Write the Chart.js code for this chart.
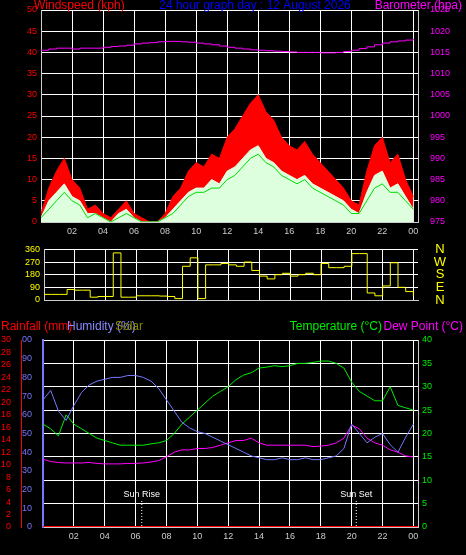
<!DOCTYPE html>
<html>
<head>
<meta charset="utf-8">
<script src="https://cdn.jsdelivr.net/npm/chart.js@4/dist/chart.umd.min.js"></script>
<style>
  body { margin: 0; background: #000; width: 466px; height: 555px; overflow: hidden; }
  canvas { position: absolute; left: 0; }
</style>
</head>
<body>
<canvas id="wind" width="466" height="240" style="top:0"></canvas>
<canvas id="dir" width="466" height="70" style="top:240px"></canvas>
<canvas id="temp" width="466" height="245" style="top:310px"></canvas>
<script>
const hours = [0,0.5,1,1.5,2,2.5,3,3.5,4,4.5,5,5.5,6,6.5,7,7.5,8,8.5,9,9.5,10,10.5,11,11.5,12,12.5,13,13.5,14,14.5,15,15.5,16,16.5,17,17.5,18,18.5,19,19.5,20,20.5,21,21.5,22,22.5,23,23.5,24];
const hourTicks = [2,4,6,8,10,12,14,16,18,20,22,24];
const gust    = [2,8,12,15,10,8,3,4,2,1,3,5,2,1,0,0,2,6,8,12,14,13,16,15,20,22,25,28,30,26,24,20,18,17,19,16,14,12,10,8,5,4,12,18,20,14,16,10,6];
const speed   = [1,5,7,9,6,5,2,2,1,0,2,3,1,0,0,0,1,3,5,7,8,8,10,9,12,13,15,17,18,15,14,12,11,10,11,9,8,7,6,5,3,2,7,11,12,8,9,6,3];
const average = [1,3,5,7,5,4,1,2,1,0,1,2,1,0,0,0,1,2,4,6,7,7,8,8,10,11,13,15,16,14,13,11,10,9,10,8,7,6,5,4,2,2,5,8,9,7,7,5,3];
const barometer = [1015.5,1015.8,1016,1016,1015.8,1016,1016,1016,1016.2,1016.4,1016.5,1016.7,1017,1017.2,1017.3,1017.5,1017.6,1017.6,1017.5,1017.4,1017.2,1017,1016.8,1016.5,1016.2,1016,1015.8,1015.6,1015.5,1015.4,1015.3,1015.2,1015.1,1015,1015,1015,1014.9,1014.9,1015,1015.2,1015.5,1015.9,1016.3,1016.8,1017.2,1017.5,1017.7,1017.9,1018.2];
const direction = [40,40,40,75,70,70,20,25,25,335,20,20,30,30,30,28,25,10,240,300,10,250,250,260,250,240,270,210,170,150,180,190,170,180,190,180,260,230,230,240,330,330,50,30,100,265,90,60,30];
const humidity = [68,73,62,57,65,72,76,78,79,80,80,81,81,80,78,74,68,62,56,53,51,50,48,46,44,42,40,38,37,36,36,37,36,36,37,36,36,37,38,42,55,50,45,48,50,44,40,48,55];
const temperature = [22,21,19.5,24,22,21,20,19,18.5,18,17.5,17.5,17.5,17.5,17.8,18,18.5,20,22,23.5,25,26.5,28,29,30,31.5,32.5,33,34,34.2,34.5,34.3,34.5,35,35,35.2,35.5,35.5,35,34,31,29,28,27,27,30,26,25.5,25];
const dewPoint = [14.5,14,13.8,13.7,13.7,13.7,13.8,13.6,13.5,13.5,13.5,13.6,13.6,13.7,13.9,14.2,15,16,16.5,16.5,16.8,16.8,17,17.5,18,18.5,18.5,19,18,17.5,17.5,17.5,17.5,17.5,17.5,17.2,17.3,17.5,18,19,21.8,21,19,18,17.5,16.5,16,15.2,15];
const rainfall = [0,0];
const sunEvents = [['Sun Rise', 6.4], ['Sun Set', 20.3]];
const compass = ['N','E','S','W','N'];

Chart.defaults.font.family = 'Liberation Sans, Arial, sans-serif';
Chart.defaults.font.size = 9;
Chart.defaults.animation = false;
Chart.defaults.plugins.legend.display = false;
Chart.defaults.plugins.tooltip.enabled = false;

const pts = (arr) => arr.map((y, i) => ({ x: hours[i], y }));
const fixW = (w) => (scale) => { scale.width = w; };
const fixH = (h) => (scale) => { scale.height = h; };
const dotted = { color: '#ffffff', lineWidth: 1, borderDash: [1, 4], drawTicks: false };
const hourLabel = (v) => String(v % 24).padStart(2, '0');

function xScale(show, h) {
    return {
        type: 'linear', min: 0, max: 24.3,
        afterBuildTicks: (s) => { s.ticks = hourTicks.map(v => ({ value: v })); },
        afterFit: fixH(h),
        grid: dotted,
        border: { color: '#ccc', width: 1 },
        ticks: { display: show, color: '#ccc', callback: hourLabel, padding: 4, maxRotation: 0 },
    };
}

const textPlugin = (items) => ({
    id: 'text',
    afterDraw(chart) {
        const ctx = chart.ctx;
        ctx.save();
        for (const t of items(chart)) {
            ctx.font = t.font || '12px Liberation Sans, Arial, sans-serif';
            ctx.fillStyle = t.color;
            ctx.textAlign = t.align || 'left';
            ctx.textBaseline = 'middle';
            ctx.fillText(t.text, t.x, t.y);
        }
        ctx.restore();
    }
});

new Chart(document.getElementById('wind'), {
    type: 'line',
    data: { datasets: [
        { data: pts(barometer), yAxisID: 'baro', borderColor: '#ff00ff', borderWidth: 1, pointRadius: 0, stepped: true, order: 0 },
        { data: pts(average), yAxisID: 'y', borderColor: '#00dd00', borderWidth: 1, pointRadius: 0, order: 1 },
        { data: pts(speed), yAxisID: 'y', borderColor: '#ddffdd', backgroundColor: '#ddffdd', fill: 'origin', borderWidth: 1, pointRadius: 0, order: 2 },
        { data: pts(gust), yAxisID: 'y', borderColor: '#ff0000', backgroundColor: '#ff0000', fill: 'origin', borderWidth: 1, pointRadius: 0, order: 3 },
    ]},
    options: {
        responsive: false,
        layout: { padding: { top: 10 } },
        scales: {
            x: xScale(true, 18),
            y: { min: 0, max: 50, afterFit: fixW(41), grid: dotted, border: { color: '#ccc' },
                 ticks: { stepSize: 5, autoSkip: false, color: '#ff0000', padding: 4 } },
            baro: { position: 'right', min: 975, max: 1025, afterFit: fixW(48), grid: { display: false },
                    border: { color: '#ccc' },
                    ticks: { stepSize: 5, autoSkip: false, color: '#ff00ff', padding: 4, callback: (v) => String(v) } },
        },
    },
    plugins: [textPlugin(() => [
        { text: 'Windspeed (kph)', x: 34, y: 6, color: '#ff0000' },
        { text: '24 hour graph day : 12 August 2026', x: 255, y: 6, color: '#0000ff', align: 'center' },
        { text: 'Barometer (hpa)', x: 462, y: 6, color: '#ff00ff', align: 'right' },
    ])],
});

new Chart(document.getElementById('dir'), {
    type: 'line',
    data: { datasets: [
        { data: pts(direction), borderColor: '#ffff00', borderWidth: 1, pointRadius: 0, stepped: true },
    ]},
    options: {
        responsive: false,
        layout: { padding: { top: 5, bottom: 10 } },
        scales: {
            x: xScale(false, 0),
            y: { min: 0, max: 360, afterFit: fixW(44), grid: dotted, border: { color: '#ccc' },
                 ticks: { stepSize: 90, autoSkip: false, color: '#ffff00', padding: 4 } },
            r: { position: 'right', min: 0, max: 360, afterFit: fixW(48), display: true,
                 grid: { display: false }, border: { display: false }, ticks: { display: false } },
        },
    },
    plugins: [textPlugin((chart) => compass.map((c, i) => ({
        text: c, x: 440, y: chart.scales.y.getPixelForValue(i * 90),
        color: '#ffff00', align: 'center', font: '13px Liberation Sans, Arial, sans-serif',
    })))],
});

new Chart(document.getElementById('temp'), {
    type: 'line',
    data: { datasets: [
        { data: pts(humidity), yAxisID: 'hum', borderColor: '#7777ff', borderWidth: 1, pointRadius: 0 },
        { data: pts(temperature), yAxisID: 't', borderColor: '#00ee00', borderWidth: 1, pointRadius: 0 },
        { data: pts(dewPoint), yAxisID: 't', borderColor: '#ff00ff', borderWidth: 1, pointRadius: 0 },
        { data: [{ x: 0, y: rainfall[0] }, { x: 24.3, y: rainfall[1] }], yAxisID: 'rain', borderColor: '#ff0000', borderWidth: 2, pointRadius: 0 },
    ]},
    options: {
        responsive: false,
        layout: { padding: { top: 30, bottom: 0 } },
        scales: {
            x: xScale(true, 28),
            hum: { position: 'left', min: 0, max: 100, afterFit: fixW(22), grid: { display: false },
                   border: { color: '#7777ff', width: 2 },
                   ticks: { stepSize: 10, autoSkip: false, color: '#7777ff', padding: 3 } },
            rain: { position: 'left', min: 0, max: 30, afterFit: fixW(21), grid: { display: false },
                    border: { color: '#ff0000' },
                    ticks: { stepSize: 2, autoSkip: false, color: '#ff0000', padding: 2 } },
            t: { position: 'right', min: 0, max: 40, afterFit: fixW(48), grid: dotted,
                 border: { color: '#ccc' }, ticks: { stepSize: 5, autoSkip: false, color: '#00ee00', padding: 4 } },
        },
    },
    plugins: [
        textPlugin(() => [
            { text: 'Rainfall (mm)', x: 1, y: 17, color: '#ff0000' },
            { text: 'Humidity (%)', x: 67, y: 17, color: '#8888ff' },
            { text: 'Solar', x: 115, y: 17, color: '#888800' },
            { text: 'Temperature (°C)', x: 382, y: 17, color: '#00ee00', align: 'right' },
            { text: 'Dew Point (°C)', x: 463, y: 17, color: '#ff00ff', align: 'right' },
        ]),
        {
            id: 'sun',
            afterDatasetsDraw(chart) {
                const { ctx, scales: { x }, chartArea } = chart;
                ctx.save();
                ctx.strokeStyle = '#fff';
                ctx.setLineDash([1, 2]);
                ctx.fillStyle = '#fff';
                ctx.font = '9px Liberation Sans, Arial, sans-serif';
                ctx.textAlign = 'center';
                for (const [label, h] of sunEvents) {
                    const px = x.getPixelForValue(h);
                    ctx.beginPath();
                    ctx.moveTo(px, chartArea.bottom - 26);
                    ctx.lineTo(px, chartArea.bottom);
                    ctx.stroke();
                    ctx.fillText(label, px, chartArea.bottom - 30);
                }
                ctx.restore();
            }
        },
    ],
});
</script>
</body>
</html>
